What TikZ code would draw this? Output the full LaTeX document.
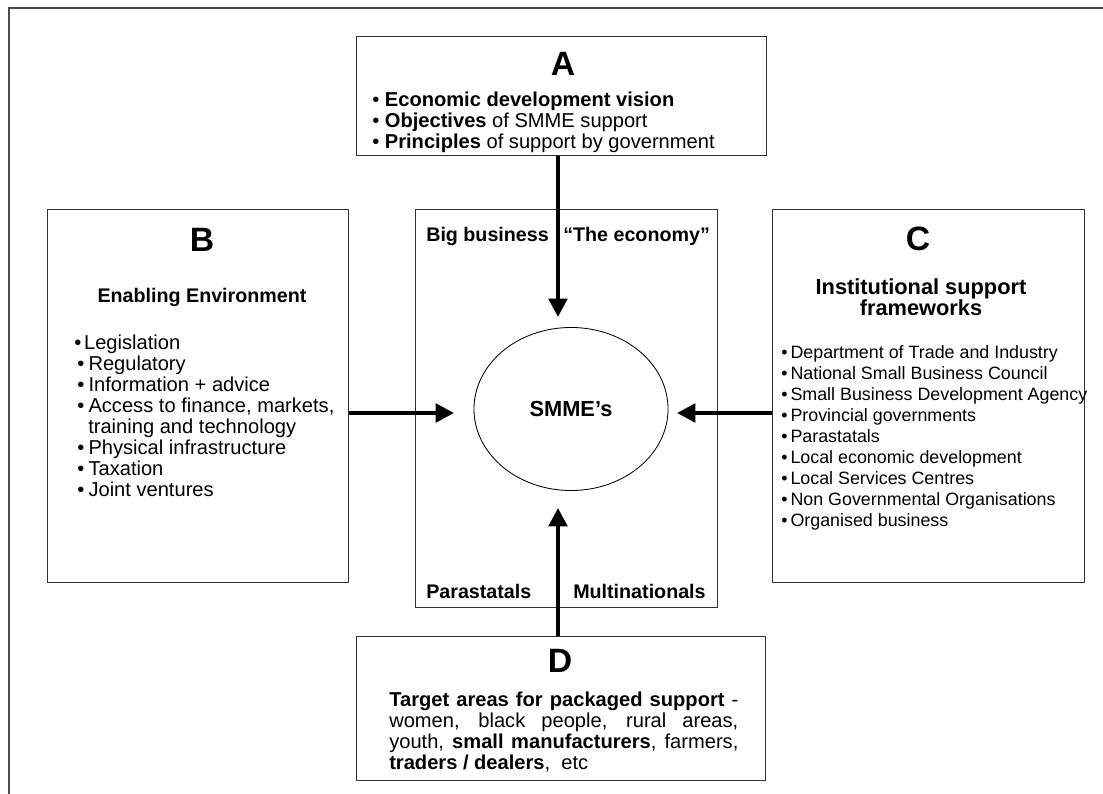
\documentclass[tikz,border=0pt]{standalone}
\usepackage{fontspec}
\setmainfont{Liberation Sans}
\usetikzlibrary{arrows.meta,shapes.geometric,positioning}

\begin{document}
\begin{tikzpicture}[x=0.025cm,y=-0.025cm,>={Triangle[length=13pt,width=13pt]},
  box/.style={draw=black!80,line width=0.7pt,inner sep=0pt},
  ttl/.style={anchor=base,inner sep=0pt,font=\fontsize{24}{26}\selectfont\bfseries},
  hd/.style={anchor=base,inner sep=0pt,font=\fontsize{14}{15}\selectfont\bfseries},
  itm/.style={anchor=base west,inner sep=0pt,font=\fontsize{14.3}{15}\selectfont},
  citm/.style={itm,font=\fontsize{12.7}{14}\selectfont},
  arr/.style={->,line width=3pt},
  frame/.style={draw=black!70,line width=1pt}]
\useasboundingbox (0,0) rectangle (1103,794);
\draw[frame] (9,794) -- (9,8) -- (1103,8);

% the five boxes
\node[box,minimum width=10.225cm,minimum height=2.95cm] (boxA) at (561.5,96) {};
\node[box,minimum width=7.5cm,minimum height=9.3cm] (boxB) at (198,396) {};
\node[box,minimum width=7.525cm,minimum height=9.925cm] (boxM) at (566.5,408.5) {};
\node[box,minimum width=7.775cm,minimum height=9.3cm] (boxC) at (928.5,396) {};
\node[box,minimum width=10.2cm,minimum height=3.575cm] (boxD) at (561,708.5) {};
\node[ellipse,draw,line width=0.6pt,inner sep=0pt,minimum width=4.85cm,minimum height=4.075cm,
  font=\fontsize{15.5}{17}\selectfont\bfseries] (smme) at (571,409) {SMME’s};

% A
\node[ttl] (tA) at (563,76) {A};
\node[itm] (a1) at (372,107) {•\ \textbf{Economic development vision}};
\node[itm] (a2) at (372,128) {•\ \textbf{Objectives} of SMME support};
\node[itm] (a3) at (372,149) {•\ \textbf{Principles} of support by government};

% B
\node[ttl] (tB) at (202,251) {B};
\node[hd] (hB) at (202,302) {Enabling Environment};
\node[itm] (b1) at (74,349) {•\hspace{2pt}Legislation};
\node[itm] (b2) at (77,370) {•\hspace{3pt}Regulatory};
\node[itm] (b3) at (77,391) {•\hspace{3pt}Information + advice};
\node[itm] (b4) at (77,412) {•\hspace{3pt}Access to finance, markets,};
\node[itm] (b5) at (88,433) {training and technology};
\node[itm] (b6) at (77,454) {•\hspace{3pt}Physical infrastructure};
\node[itm] (b7) at (77,475) {•\hspace{3pt}Taxation};
\node[itm] (b8) at (77,496) {•\hspace{3pt}Joint ventures};

% C
\node[ttl] (tC) at (918,250) {C};
\node[hd,font=\fontsize{15.5}{17}\selectfont\bfseries] (hC1) at (921,294) {Institutional support};
\node[hd,font=\fontsize{15.5}{17}\selectfont\bfseries] (hC2) at (921,315) {frameworks};
\node[citm] (c1) at (781,358) {•\,Department of Trade and Industry};
\node[citm] (c2) at (781,379) {•\,National Small Business Council};
\node[citm] (c3) at (781,400) {•\,Small Business Development Agency};
\node[citm] (c4) at (781,421) {•\,Provincial governments};
\node[citm] (c5) at (781,442) {•\,Parastatals};
\node[citm] (c6) at (781,463) {•\,Local economic development};
\node[citm] (c7) at (781,484) {•\,Local Services Centres};
\node[citm] (c8) at (781,505) {•\,Non Governmental Organisations};
\node[citm] (c9) at (781,526) {•\,Organised business};

% middle box corners
\node[itm,font=\fontsize{14}{15}\selectfont\bfseries] (big) at (426,241) {Big business};
\node[itm,font=\fontsize{14}{15}\selectfont\bfseries] (eco) at (563,241) {“The economy”};
\node[itm,font=\fontsize{14}{15}\selectfont\bfseries] (para) at (426,598) {Parastatals};
\node[itm,font=\fontsize{14}{15}\selectfont\bfseries] (multi) at (573,598) {Multinationals};

% D
\node[ttl] (tD) at (560,672) {D};
\node[itm] (d1) at (389,706) {\makebox[8.725cm][s]{\textbf{Target areas for packaged support} -}};
\node[itm] (d2) at (389,727) {\makebox[8.725cm][s]{women, black people, rural areas,}};
\node[itm] (d3) at (389,748) {\makebox[8.725cm][s]{youth, \textbf{small manufacturers}, farmers,}};
\node[itm] (d4) at (389,769) {\textbf{traders / dealers},\ \ etc};

% arrows into the SMME's
\coordinate (tipA) at (558,317);
\coordinate (tipB) at (454,413);
\coordinate (tipC) at (677,413);
\coordinate (tipD) at (558,508);
\draw[arr] (boxA.south -| tipA) -- (tipA);
\draw[arr] (boxB.east |- tipB) -- (tipB);
\draw[arr] (boxC.west |- tipC) -- (tipC);
\draw[arr] (boxD.north -| tipD) -- (tipD);
\end{tikzpicture}
\end{document}
